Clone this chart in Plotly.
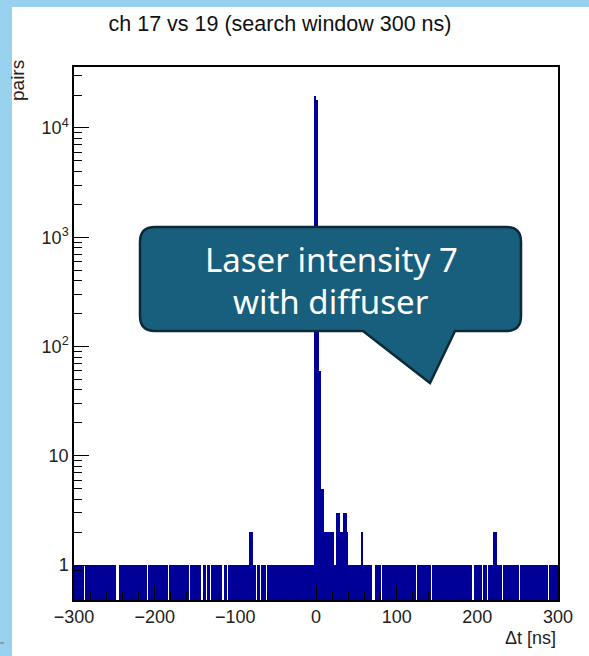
import numpy as np
import plotly.graph_objects as go

# ---------------- data ----------------
BIN_LO, BIN_HI, BIN_W = -300, 300, 2   # histogram binning [ns]

# counts per 2 ns bin, from -300 ns to +300 ns (300 bins)
counts = [
    1, 1, 1, 1, 1, 1, 0, 1, 1, 1, 1, 1, 1, 1, 1, 1, 1, 1, 1, 1,
    1, 1, 1, 1, 1, 1, 0, 0, 1, 1, 1, 1, 1, 1, 1, 1, 1, 1, 1, 1,
    1, 1, 1, 1, 1, 0, 1, 1, 1, 1, 1, 1, 1, 1, 1, 1, 1, 1, 0, 1,
    1, 1, 1, 1, 1, 1, 1, 1, 1, 1, 1, 0, 1, 1, 1, 1, 1, 1, 1, 0,
    1, 1, 0, 1, 0, 1, 1, 1, 1, 1, 1, 1, 0, 1, 1, 0, 1, 1, 1, 1,
    1, 1, 1, 1, 1, 1, 1, 1, 1, 2, 2, 1, 1, 0, 1, 0, 1, 1, 1, 0,
    1, 1, 1, 1, 1, 1, 1, 1, 1, 1, 1, 1, 1, 1, 1, 1, 1, 1, 1, 1,
    1, 1, 1, 1, 1, 1, 1, 1, 1, 19500, 18000, 300, 60, 5, 5, 2, 2, 2, 2, 2,
    2, 1, 1, 3, 3, 2, 2, 3, 3, 2, 1, 1, 1, 1, 1, 1, 1, 1, 2, 1,
    1, 1, 1, 1, 1, 0, 0, 1, 1, 1, 0, 1, 1, 1, 1, 1, 1, 1, 1, 1,
    1, 1, 1, 1, 1, 1, 1, 1, 1, 1, 1, 1, 0, 1, 1, 1, 1, 1, 1, 1,
    1, 0, 1, 1, 1, 1, 1, 1, 1, 1, 1, 1, 1, 1, 1, 1, 1, 1, 1, 1,
    1, 1, 1, 1, 1, 1, 1, 0, 1, 1, 1, 1, 1, 0, 1, 1, 0, 1, 1, 1,
    2, 2, 1, 1, 1, 0, 1, 1, 1, 1, 1, 1, 1, 1, 1, 1, 0, 1, 1, 1,
    1, 1, 1, 1, 1, 1, 1, 1, 1, 1, 1, 1, 1, 1, 0, 1, 1, 1, 1, 1,
]

x_tickvals = [-300, -200, -100, 0, 100, 200, 300]
x_ticktext = ["\u2212300", "\u2212200", "\u2212100", "0", "100", "200", "300"]
y_tickvals = [1, 10, 100, 1000, 10000]
y_ticktext = ["1", "10", "10<sup>2</sup>", "10<sup>3</sup>", "10<sup>4</sup>"]
y_minorvals = [0.5, 0.6, 0.7, 0.8, 0.9,
               2, 3, 4, 5, 6, 7, 8, 9,
               20, 30, 40, 50, 60, 70, 80, 90,
               200, 300, 400, 500, 600, 700, 800, 900,
               2000, 3000, 4000, 5000, 6000, 7000, 8000, 9000,
               20000, 30000]

title_text = "ch 17 vs 19 (search window 300 ns)"
callout_lines = ["Laser intensity 7", "with diffuser"]

# ---------------- figure ----------------
W, H = 589, 656
L, R, T, B = 74, 31, 67, 56
PW, PH = W - L - R, H - T - B


def px(x):
    return (x - L) / PW


def py(y):
    return (H - B - y) / PH


edges = np.arange(BIN_LO, BIN_HI + BIN_W, BIN_W)
centers = (edges[:-1] + edges[1:]) / 2
yvals = [c if c > 0 else None for c in counts]

fig = go.Figure()
fig.add_trace(go.Bar(x=centers, y=yvals, width=BIN_W,
                     marker=dict(color="#000099", line=dict(width=0)),
                     showlegend=False, hoverinfo="skip"))

FONT = "Liberation Sans, Arial, sans-serif"
shapes = []
BLUE = "#98d1ee"
# light blue frame strips (left and top)
shapes.append(dict(type="rect", xref="paper", yref="paper",
                   x0=px(0), x1=px(12), y0=py(H), y1=py(0),
                   fillcolor=BLUE, line=dict(width=0), layer="below"))
shapes.append(dict(type="rect", xref="paper", yref="paper",
                   x0=px(0), x1=px(W), y0=py(7), y1=py(0),
                   fillcolor=BLUE, line=dict(width=0), layer="below"))
shapes.append(dict(type="line", xref="paper", yref="paper",
                   x0=px(0), x1=px(4), y0=py(643), y1=py(643),
                   line=dict(color="#8a8a8a", width=1.5)))

# callout bubble
x0, x1, y0, y1, r = 140, 521, 227, 331, 15
tl, tip, trt = (363, 331), (430, 383), (455, 331)


def P(x, y):
    return f"{px(x):.5f},{py(y):.5f}"


path = (f"M {P(x0 + r, y0)} L {P(x1 - r, y0)} Q {P(x1, y0)} {P(x1, y0 + r)} "
        f"L {P(x1, y1 - r)} Q {P(x1, y1)} {P(x1 - r, y1)} "
        f"L {P(*trt)} L {P(*tip)} L {P(*tl)} "
        f"L {P(x0 + r, y1)} Q {P(x0, y1)} {P(x0, y1 - r)} "
        f"L {P(x0, y0 + r)} Q {P(x0, y0)} {P(x0 + r, y0)} Z")
shapes.append(dict(type="path", xref="paper", yref="paper", path=path,
                   fillcolor="#185f7e", line=dict(color="#0d2a37", width=2.5),
                   layer="above"))

CFONT = dict(family="Noto Sans, sans-serif", size=33, color="white")
annotations = [
    dict(text=callout_lines[0], xref="paper", yref="paper", x=px(331), y=py(259),
         showarrow=False, xanchor="center", yanchor="middle", font=CFONT),
    dict(text=callout_lines[1], xref="paper", yref="paper", x=px(331), y=py(301),
         showarrow=False, xanchor="center", yanchor="middle", font=CFONT),
    dict(text="pairs", xref="paper", yref="paper", x=px(18), y=py(81),
         showarrow=False, xanchor="center", yanchor="middle", textangle=-90,
         font=dict(family=FONT, size=19, color="#222")),
    dict(text="\u0394t [ns]", xref="paper", yref="paper", x=px(558), y=py(638),
         showarrow=False, xanchor="right", yanchor="middle",
         font=dict(family=FONT, size=18, color="#222")),
]

fig.update_layout(
    width=W, height=H, autosize=False,
    margin=dict(l=L, r=R, t=T, b=B, pad=0),
    paper_bgcolor="white", plot_bgcolor="white",
    bargap=0,
    title=dict(text=title_text, xref="paper", x=px(280), xanchor="center",
               yref="container", y=1 - 23 / H, yanchor="middle",
               font=dict(family=FONT, size=21.5, color="#111")),
    shapes=shapes, annotations=annotations,
    xaxis=dict(range=[BIN_LO, BIN_HI], tickmode="array", tickvals=x_tickvals,
               ticktext=x_ticktext, ticks="inside", ticklen=15, tickwidth=1.3,
               tickcolor="black", showline=True, linecolor="black", linewidth=1.5,
               mirror=True, showgrid=False, zeroline=False,
               tickfont=dict(family=FONT, size=18, color="#222"),
               minor=dict(ticks="inside", ticklen=8, tickwidth=1.2, tickcolor="black",
                          dtick=20, tick0=0, showgrid=False)),
    yaxis=dict(type="log", range=[-0.32, 4.558], tickmode="array",
               tickvals=y_tickvals, ticktext=y_ticktext,
               ticks="inside", ticklen=15, tickwidth=1.3, tickcolor="black",
               showline=True, linecolor="black", linewidth=1.5, mirror=True,
               showgrid=False, zeroline=False,
               tickfont=dict(family=FONT, size=18, color="#222"),
               minor=dict(ticks="inside", ticklen=8, tickwidth=1.2, tickcolor="black",
                          tickmode="array", tickvals=y_minorvals, showgrid=False)),
)

fig.write_html("out.html")
